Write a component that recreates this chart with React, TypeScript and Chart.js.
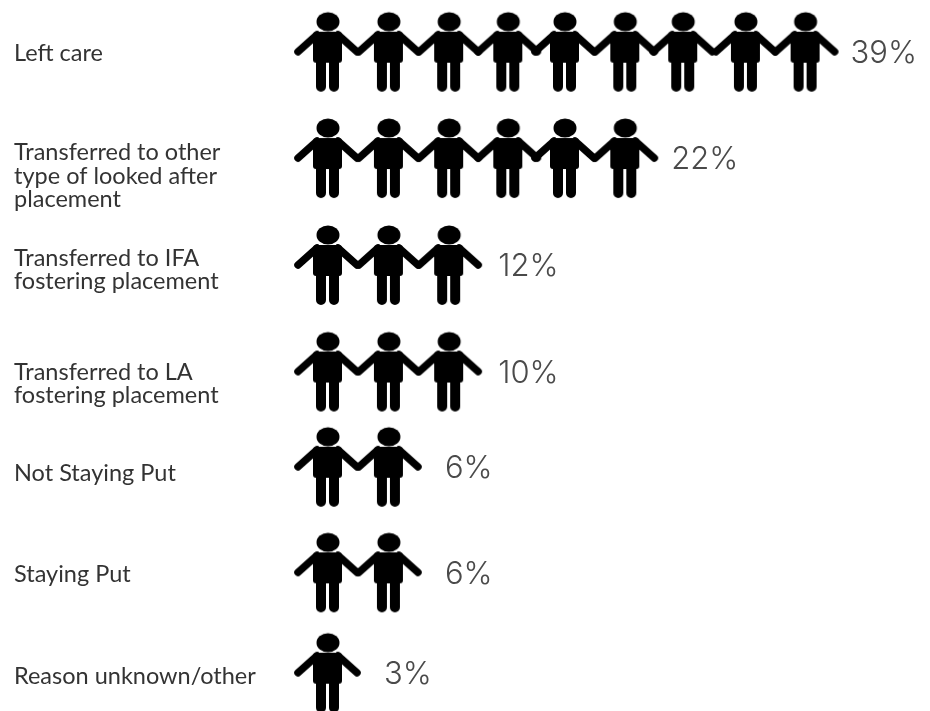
import React, { useEffect, useRef } from "react";
import { Chart, registerables } from "chart.js";

Chart.register(...registerables);

const categories: (string | string[])[] = [
  "Left care",
  ["Transferred to other", "type of looked after", "placement"],
  ["Transferred to IFA", "fostering placement"],
  ["Transferred to LA", "fostering placement"],
  "Not Staying Put",
  "Staying Put",
  "Reason unknown/other",
];
const percentLabels = ["39%", "22%", "12%", "10%", "6%", "6%", "3%"];
const iconCounts = [9, 6, 3, 3, 2, 2, 1];

// Placement in axis units (the rows and columns of the reference are not evenly spaced)
const rowAxis = [0, 1.027, 2.06, 3.09, 4.01, 5.03, 6];
const columnAxis = [0, 1.02, 2.03, 3.02, 3.97, 4.98, 5.95, 7.0, 8.0];
const labelAxis = [0.012, 1.2, 2.11, 3.21, 4.07, 5.05, 6.04];
const percentGapPx = [45, 46, 49, 49, 56, 56, 56];

function makePerson(): HTMLCanvasElement {
  const c = document.createElement("canvas");
  c.width = 80;
  c.height = 84;
  const g = c.getContext("2d")!;
  g.translate(40, 42);
  g.fillStyle = "#000";
  g.strokeStyle = "#000";
  g.lineCap = "round";
  g.lineJoin = "round";
  g.beginPath();
  g.ellipse(0, -30, 11.5, 9.5, 0, 0, Math.PI * 2);
  g.fill();
  g.beginPath();
  g.roundRect(-15, -20, 29, 31, 3);
  g.fill();
  g.lineWidth = 7.5;
  g.beginPath();
  g.moveTo(-11, -17);
  g.lineTo(-30, 0);
  g.moveTo(10, -17);
  g.lineTo(29, 0);
  g.stroke();
  g.lineWidth = 10;
  g.beginPath();
  g.moveTo(-7, 8);
  g.lineTo(-7, 35);
  g.moveTo(6, 8);
  g.lineTo(6, 35);
  g.stroke();
  return c;
}

export default function App() {
  const ref = useRef<HTMLCanvasElement>(null);
  useEffect(() => {
    const person = makePerson();
    const points = iconCounts.flatMap((n, row) =>
      Array.from({ length: n }, (_, i) => ({ x: columnAxis[i], y: rowAxis[row] }))
    );
    const percentPlugin = {
      id: "percentLabels",
      afterDatasetsDraw(chart: any) {
        const { ctx, scales } = chart;
        ctx.save();
        ctx.fillStyle = "#4a4a4a";
        ctx.font = "300 31px Inter, 'Open Sans', sans-serif";
        ctx.textAlign = "left";
        ctx.textBaseline = "middle";
        percentLabels.forEach((t, row) => {
          const x = scales.x.getPixelForValue(columnAxis[iconCounts[row] - 1]) + percentGapPx[row];
          ctx.fillText(t, x, scales.y.getPixelForValue(rowAxis[row]) + 2);
        });
        ctx.restore();
      },
    };
    const chart = new Chart(ref.current!, {
      type: "scatter",
      data: {
        datasets: [
          {
            data: points,
            pointStyle: person as any,
            pointRadius: 40,
            clip: false as any,
          },
        ],
      },
      options: {
        animation: false,
        responsive: false,
        layout: { padding: 0, autoPadding: false },
        plugins: { legend: { display: false }, tooltip: { enabled: false } },
        scales: {
          x: { type: "linear", display: false, min: -5.494, max: 10.084 },
          y: { type: "linear", display: false, reverse: true, min: -0.5, max: 6.37 },
          yLabels: {
            type: "linear",
            position: "left",
            reverse: true,
            min: -0.5,
            max: 6.37,
            grid: { display: false },
            border: { display: false },
            afterBuildTicks: (scale: any) => {
              scale.ticks = labelAxis.map((value) => ({ value }));
            },
            afterFit: (scale: any) => {
              scale.width = 0;
              scale.paddingTop = 0;
              scale.paddingBottom = 0;
              scale.paddingLeft = 0;
              scale.paddingRight = 0;
            },
            ticks: {
              mirror: true,
              padding: 14,
              autoSkip: false,
              color: "#333333",
              font: { family: "Lato", size: 23.5, lineHeight: 1.0 },
              callback: (_v: any, i: number) => categories[i],
            },
          },
        },
      } as any,
      plugins: [percentPlugin],
    });
    return () => chart.destroy();
  }, []);
  return (
    <canvas
      ref={ref}
      width={930}
      height={711}
      style={{ position: "absolute", left: 0, top: 0, width: 930, height: 711, filter: "blur(0.5px)" }}
    />
  );
}
